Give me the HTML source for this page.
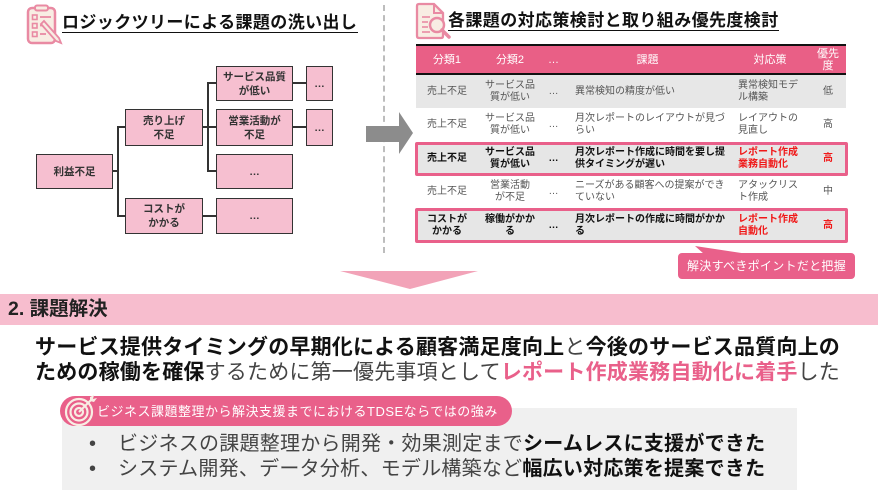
<!DOCTYPE html>
<html><head><meta charset="utf-8">
<style>
*{margin:0;padding:0;box-sizing:border-box}
body{width:878px;height:495px;overflow:hidden;background:#fff;font-family:"Liberation Sans","Noto Sans CJK JP",sans-serif;position:relative;color:#222}
.a{position:absolute}
.box{position:absolute;background:#f6bfd0;border:1.5px solid #333;display:flex;align-items:center;justify-content:center;text-align:center;font-size:10.5px;font-weight:bold;color:#333;line-height:14px}
.ln{position:absolute;background:#333}
.row{position:absolute;left:416px;width:430px;display:grid;grid-template-columns:62px 64px 23px 165px 80px 36px;font-size:10px;line-height:12px;color:#555}
.row>div{display:flex;align-items:center;justify-content:center;text-align:center;white-space:nowrap}
.row>div.l{justify-content:flex-start;text-align:left}
.row>div.c4{padding-left:10px}
.row>div.c5{padding-left:8px}
.hd{color:#fff;font-size:11px;line-height:12px}
.b{font-weight:bold;color:#111}
.r{color:#f01818;font-weight:bold}
.hl{position:absolute;left:415px;width:433px;border:3px solid #e9608a;background:#e6e6e6;border-radius:2px}
</style></head><body>

<!-- Left title -->
<svg class="a" style="left:26px;top:4px" width="38" height="42" viewBox="0 0 38 42">
<rect x="2" y="4" width="27" height="35" rx="4" fill="#f8ede3" stroke="#e98aa3" stroke-width="2.5"/>
<rect x="9" y="1.5" width="13" height="5" rx="2" fill="#f8ede3" stroke="#e98aa3" stroke-width="2"/>
<rect x="6.5" y="11" width="4.5" height="4.5" fill="none" stroke="#e98aa3" stroke-width="1.6"/>
<rect x="6.5" y="19.5" width="4.5" height="4.5" fill="none" stroke="#e98aa3" stroke-width="1.6"/>
<rect x="6.5" y="28" width="4.5" height="4.5" fill="none" stroke="#e98aa3" stroke-width="1.6"/>
<line x1="14" y1="13" x2="25" y2="13" stroke="#e98aa3" stroke-width="1.8"/>
<line x1="14" y1="21.5" x2="22" y2="21.5" stroke="#e98aa3" stroke-width="1.8"/>
<line x1="14" y1="30" x2="20" y2="30" stroke="#e98aa3" stroke-width="1.8"/>
<path d="M18 17 L33 34 L35 39 L30 37 L15 20 Z" fill="#f8ede3" stroke="#e98aa3" stroke-width="1.8"/>
</svg>
<div class="a" style="left:62px;top:13px;font-size:17px;line-height:19px;font-weight:bold;letter-spacing:0.4px;color:#111;border-bottom:1.6px solid #111;padding-bottom:0px;width:296px;white-space:nowrap">ロジックツリーによる課題の洗い出し</div>

<!-- Tree -->
<div class="box" style="left:36px;top:154px;width:77px;height:35px">利益不足</div>
<div class="box" style="left:125px;top:109px;width:78px;height:37px">売り上げ<br>不足</div>
<div class="box" style="left:125px;top:198px;width:78px;height:36px">コストが<br>かかる</div>
<div class="box" style="left:216px;top:66px;width:77px;height:35px">サービス品質<br>が低い</div>
<div class="box" style="left:216px;top:109px;width:77px;height:37px">営業活動が<br>不足</div>
<div class="box" style="left:216px;top:154px;width:77px;height:35px">…</div>
<div class="box" style="left:216px;top:198px;width:77px;height:36px">…</div>
<div class="box" style="left:306px;top:66px;width:27px;height:35px">…</div>
<div class="box" style="left:306px;top:109px;width:27px;height:37px">…</div>

<div class="ln" style="left:113px;top:170px;width:6px;height:2px"></div>
<div class="ln" style="left:117px;top:126px;width:2px;height:91px"></div>
<div class="ln" style="left:117px;top:126px;width:8px;height:2px"></div>
<div class="ln" style="left:117px;top:215px;width:8px;height:2px"></div>
<div class="ln" style="left:203px;top:126px;width:6px;height:2px"></div>
<div class="ln" style="left:207px;top:82px;width:2px;height:90px"></div>
<div class="ln" style="left:207px;top:82px;width:9px;height:2px"></div>
<div class="ln" style="left:207px;top:126px;width:9px;height:2px"></div>
<div class="ln" style="left:207px;top:170px;width:9px;height:2px"></div>
<div class="ln" style="left:293px;top:82px;width:13px;height:2px"></div>
<div class="ln" style="left:293px;top:126px;width:13px;height:2px"></div>
<div class="ln" style="left:203px;top:215px;width:13px;height:2px"></div>

<!-- dashed divider -->
<div class="a" style="left:383px;top:5px;width:0;height:248px;border-left:2.5px dashed #bdbdbd"></div>

<!-- arrows -->
<svg class="a" style="left:0;top:0" width="878" height="495">
<polygon points="366,126 399,126 399,112 413,133 399,154 399,142 366,142" fill="#8c8c8c"/>
<polygon points="340,271 478,271 410,289" fill="#f2a3b8"/>
<polygon points="695,246 704,254 748,254" fill="#e9608a"/>
</svg>

<!-- Right title -->
<svg class="a" style="left:414px;top:2px" width="40" height="40" viewBox="0 0 40 40">
<path d="M3 4 Q3 2 5 2 L20 2 L29 11 L29 34 Q29 36 27 36 L5 36 Q3 36 3 34 Z" fill="#f8ede3" stroke="#e98aa3" stroke-width="2.3"/>
<path d="M20 2 L20 11 L29 11" fill="none" stroke="#e98aa3" stroke-width="2"/>
<line x1="8" y1="15" x2="16" y2="15" stroke="#e98aa3" stroke-width="1.6"/>
<line x1="8" y1="20" x2="14" y2="20" stroke="#e98aa3" stroke-width="1.6"/>
<line x1="8" y1="25" x2="14" y2="25" stroke="#e98aa3" stroke-width="1.6"/>
<line x1="8" y1="30" x2="16" y2="30" stroke="#e98aa3" stroke-width="1.6"/>
<circle cx="23" cy="23" r="7" fill="#f8ede3" stroke="#e98aa3" stroke-width="2.5"/>
<line x1="28" y1="28" x2="35" y2="35" stroke="#e98aa3" stroke-width="3.5" stroke-linecap="round"/>
</svg>
<div class="a" style="left:448px;top:11px;font-size:17px;line-height:19px;font-weight:bold;letter-spacing:0.4px;color:#111;border-bottom:1.6px solid #111;width:331px;white-space:nowrap">各課題の対応策検討と取り組み優先度検討</div>

<!-- Table header -->
<div class="a" style="left:416px;top:44px;width:430px;height:31px;background:#e95f86;border-top:2px solid #111;border-bottom:2px solid #111"></div>
<div class="row hd" style="top:46px;height:27px">
<div>分類1</div><div>分類2</div><div>…</div><div>課題</div><div>対応策</div><div>優先<br>度</div>
</div>

<!-- Row1 -->
<div class="a" style="left:416px;top:75px;width:430px;height:33px;background:#e7e7e7"></div>
<div class="row" style="top:75px;height:33px">
<div>売上不足</div><div>サービス品<br>質が低い</div><div>…</div><div class="l c4">異常検知の精度が低い</div><div class="l c5">異常検知モデ<br>ル構築</div><div>低</div>
</div>
<!-- Row2 -->
<div class="row" style="top:108px;height:33px">
<div>売上不足</div><div>サービス品<br>質が低い</div><div>…</div><div class="l c4">月次レポートのレイアウトが見づ<br>らい</div><div class="l c5">レイアウトの<br>見直し</div><div>高</div>
</div>
<!-- Row3 highlighted -->
<div class="hl" style="top:142px;height:34px"></div>
<div class="row b" style="top:142px;height:34px">
<div>売上不足</div><div>サービス品<br>質が低い</div><div>…</div><div class="l c4">月次レポート作成に時間を要し提<br>供タイミングが遅い</div><div class="l c5 r">レポート作成<br>業務自動化</div><div class="r">高</div>
</div>
<!-- Row4 -->
<div class="row" style="top:176px;height:32px">
<div>売上不足</div><div>営業活動<br>が不足</div><div>…</div><div class="l c4">ニーズがある顧客への提案ができ<br>ていない</div><div class="l c5">アタックリス<br>ト作成</div><div>中</div>
</div>
<!-- Row5 highlighted -->
<div class="hl" style="top:208px;height:35px"></div>
<div class="row b" style="top:208px;height:35px">
<div>コストが<br>かかる</div><div>稼働がかか<br>る</div><div>…</div><div class="l c4">月次レポートの作成に時間がかか<br>る</div><div class="l c5 r">レポート作成<br>自動化</div><div class="r">高</div>
</div>

<!-- Callout -->
<div class="a" style="left:678px;top:253px;width:177px;height:26px;border-radius:4px;background:#e9608a;color:#fff;font-size:12px;line-height:26px;text-align:center;letter-spacing:0.3px">解決すべきポイントだと把握</div>

<!-- Section band -->
<div class="a" style="left:0;top:294px;width:878px;height:31px;background:#f7bdce"></div>
<div class="a" style="left:8px;top:297px;font-size:19.5px;line-height:25px;font-weight:bold;color:#222;white-space:nowrap">2. 課題解決</div>

<!-- Main text -->
<div class="a" style="left:35px;top:335px;font-size:21px;line-height:25px;letter-spacing:0.2px;color:#444;white-space:nowrap">
<span class="b">サービス提供タイミングの早期化による顧客満足度向上</span>と<span class="b">今後のサービス品質向上の</span><br>
<span class="b">ための稼働を確保</span>するために第一優先事項として<span style="color:#e9608a;font-weight:bold">レポート作成業務自動化に着手</span>した
</div>

<!-- Strengths box -->
<div class="a" style="left:62px;top:408px;width:735px;height:82px;background:#f0f0f0"></div>
<div class="a" style="left:60px;top:396px;width:452px;height:30px;border-radius:15px;background:#e9608a"></div>
<svg class="a" style="left:63px;top:394px" width="36" height="34" viewBox="0 0 36 34">
<circle cx="16" cy="18" r="13" fill="none" stroke="#f8ede3" stroke-width="2.2"/>
<circle cx="16" cy="18" r="8.5" fill="none" stroke="#f8ede3" stroke-width="2.2"/>
<circle cx="16" cy="18" r="4" fill="none" stroke="#f8ede3" stroke-width="2.2"/>
<line x1="16" y1="18" x2="29" y2="5" stroke="#f8ede3" stroke-width="2"/>
<path d="M27 3 L31 1 L30 5 L34 4 L31 8 L27 7 Z" fill="#f8ede3"/>
</svg>
<div class="a" style="left:97px;top:403px;font-size:13px;line-height:17px;letter-spacing:0.5px;color:#fff;white-space:nowrap">ビジネス課題整理から解決支援までにおけるTDSEならではの強み</div>

<div class="a" style="left:89px;top:432px;font-size:20px;line-height:25px;color:#444;white-space:nowrap">•</div>
<div class="a" style="left:89px;top:457px;font-size:20px;line-height:25px;color:#444;white-space:nowrap">•</div>
<div class="a" style="left:118px;top:432px;font-size:20px;line-height:25px;letter-spacing:0.25px;color:#444;white-space:nowrap">ビジネスの課題整理から開発・効果測定まで<span class="b">シームレスに支援ができた</span><br>システム開発、データ分析、モデル構築など<span class="b">幅広い対応策を提案できた</span></div>

</body></html>
